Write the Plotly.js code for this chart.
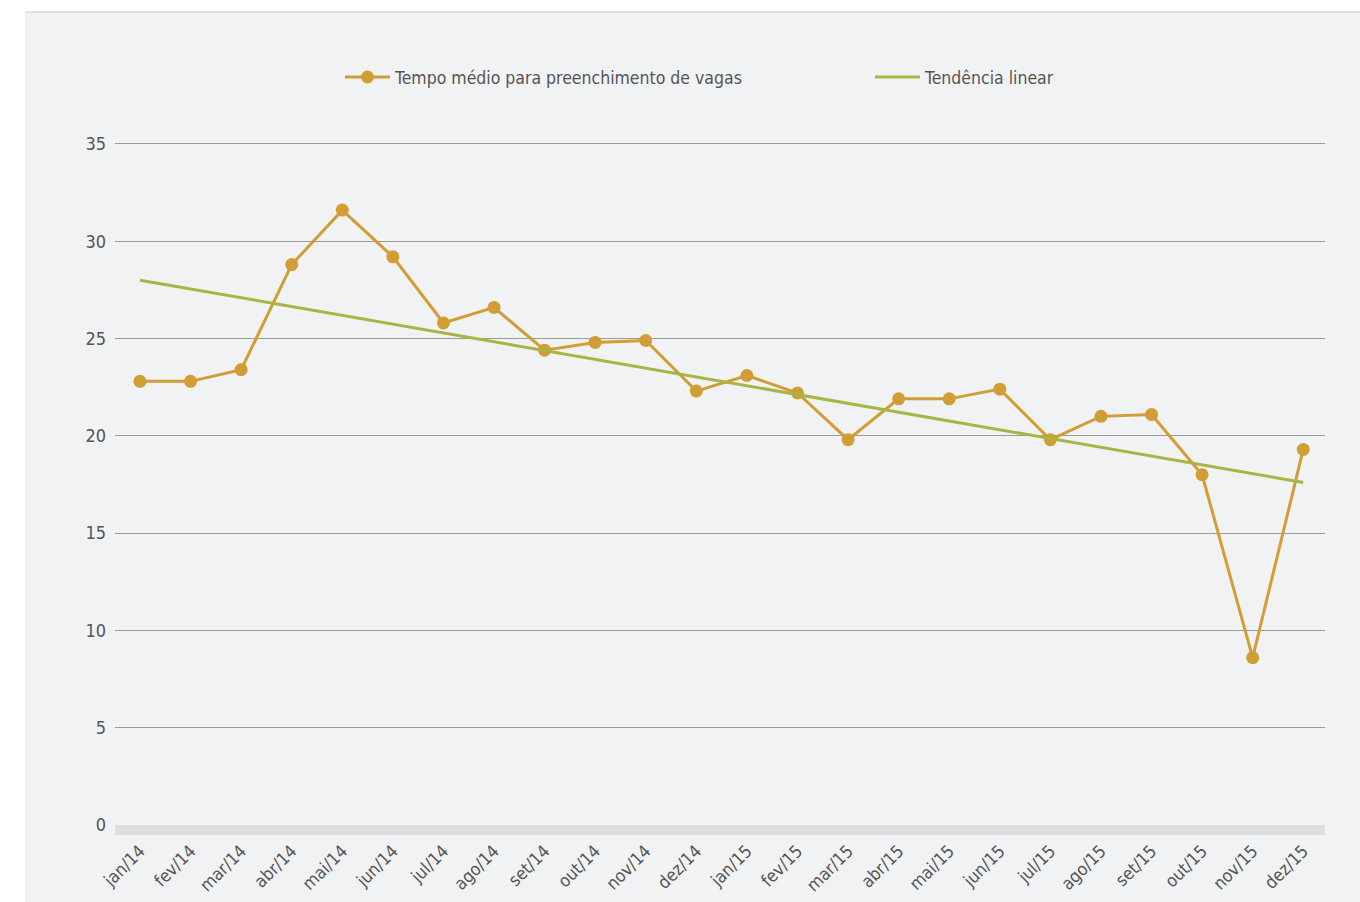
<!DOCTYPE html>
<html><head><meta charset="utf-8">
<script src="https://cdn.plot.ly/plotly-3.0.1.min.js"></script>
<style>html,body{margin:0;padding:0;background:#fff}#chart{width:1360px;height:902px}</style>
</head><body><div id="chart"></div>
<script>
const months = ["jan/14","fev/14","mar/14","abr/14","mai/14","jun/14","jul/14","ago/14","set/14","out/14","nov/14","dez/14",
                "jan/15","fev/15","mar/15","abr/15","mai/15","jun/15","jul/15","ago/15","set/15","out/15","nov/15","dez/15"];
const tempoMedio = [22.8,22.8,23.4,28.8,31.6,29.2,25.8,26.6,24.4,24.8,24.9,22.3,
                    23.1,22.2,19.8,21.9,21.9,22.4,19.8,21.0,21.1,18.0,8.6,19.3];
const trendX = ["jan/14","dez/15"];
const trendY = [28.0,17.6];
const seriesNames = ["Tempo médio para preenchimento de vagas","Tendência linear"];
const yTicks = [0,5,10,15,20,25,30,35];

const FONT = '"DejaVu Sans Condensed", "Liberation Sans Narrow", sans-serif';
const traces = [
  {x: months, y: tempoMedio, name: seriesNames[0], type:'scatter', mode:'lines+markers',
   line:{color:'#d29d34', width:3}, marker:{color:'#d29d34', size:13}, legend:'legend'},
  {x: trendX, y: trendY, name: seriesNames[1], type:'scatter', mode:'lines',
   line:{color:'#a8b443', width:3}, legend:'legend2'}
];
const legFont = {family:FONT, size:17.5, color:'#555555'};
const layout = {
  width:1360, height:902,
  paper_bgcolor:'#ffffff', plot_bgcolor:'rgba(0,0,0,0)',
  margin:{l:115, r:35, t:142, b:77},
  font:{family:FONT, color:'#555555', size:17},
  showlegend:true,
  legend:{orientation:'h', x:(340-115)/1210, xanchor:'left', y:1.095, yanchor:'middle', itemwidth:45,
          font:legFont, bgcolor:'rgba(0,0,0,0)'},
  legend2:{orientation:'h', x:(870-115)/1210, xanchor:'left', y:1.095, yanchor:'middle', itemwidth:45,
          font:legFont, bgcolor:'rgba(0,0,0,0)'},
  xaxis:{type:'category', categoryarray: months, range:[-0.494, 23.43], showgrid:false, zeroline:false,
         showline:false, tickangle:-45, ticks:'outside', ticklen:8, tickcolor:'rgba(0,0,0,0)',
         tickfont:{family:FONT, size:17.5, color:'#555555'}, fixedrange:true},
  yaxis:{range:[0,35.1], tickvals:yTicks, showgrid:true, gridcolor:'#9a9a9a', gridwidth:1,
         zeroline:false, showline:false, ticks:'', ticklabelstandoff:8,
         tickfont:{family:FONT, size:18, color:'#555555'}, fixedrange:true},
  shapes:[
    {type:'rect', xref:'paper', yref:'paper', layer:'below',
     x0:-90/1210, x1:1.03, y0:-77/683, y1:1+130/683, fillcolor:'#f1f2f4', line:{width:0}},
    {type:'line', xref:'paper', yref:'paper', layer:'below',
     x0:-90/1210, x1:1.03, y0:1+130/683, y1:1+130/683, line:{color:'#c8c8c8', width:1}},
    {type:'rect', xref:'paper', yref:'paper', layer:'below',
     x0:0, x1:1, y0:-10/683, y1:0, fillcolor:'#dcdddf', line:{width:0}}
  ]
};
Plotly.newPlot('chart', traces, layout, {displayModeBar:false, staticPlot:true});
</script></body></html>
